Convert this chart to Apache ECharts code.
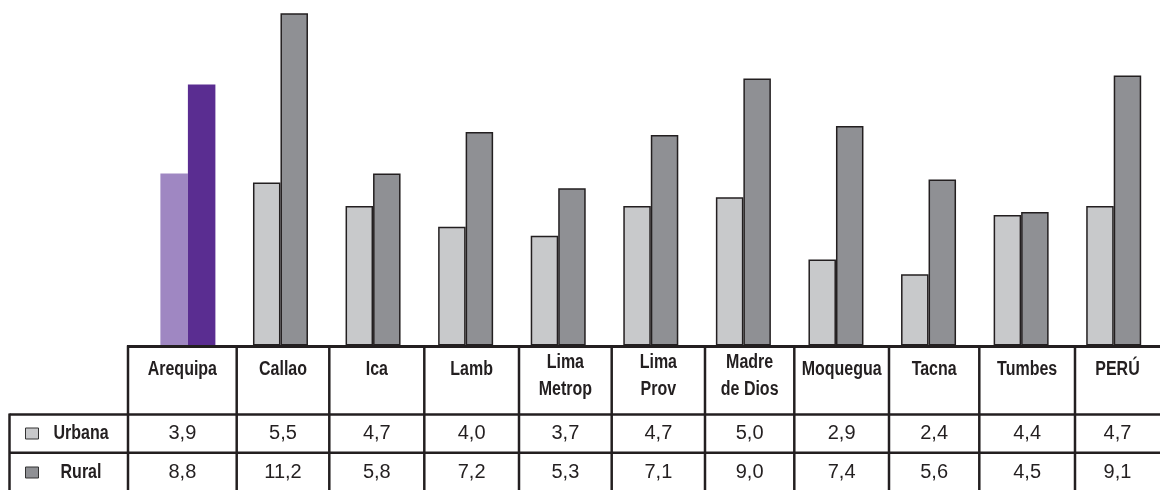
<!DOCTYPE html>
<html>
<head>
<meta charset="utf-8">
<script src="https://cdn.jsdelivr.net/npm/echarts@6/dist/echarts.min.js"></script>
<style>
  html, body { margin: 0; padding: 0; background: #ffffff; }
  #chart { width: 1160px; height: 490px; }
</style>
</head>
<body>
<div id="chart"></div>
<script>
// ---- data ----
const categorias = ['Arequipa', 'Callao', 'Ica', 'Lamb', 'Lima\nMetrop', 'Lima\nProv', 'Madre\nde Dios', 'Moquegua', 'Tacna', 'Tumbes', 'PERÚ'];
const seriesNombres = ['Urbana', 'Rural'];
// values printed in the table
const urbana = [3.9, 5.5, 4.7, 4.0, 3.7, 4.7, 5.0, 2.9, 2.4, 4.4, 4.7];
const rural  = [8.8, 11.2, 5.8, 7.2, 5.3, 7.1, 9.0, 7.4, 5.6, 4.5, 9.1];
// bar heights as drawn in the picture (Arequipa urbana bar is drawn taller than its table value)
const urbanaBarra = [5.8, 5.5, 4.7, 4.0, 3.7, 4.7, 5.0, 2.9, 2.4, 4.4, 4.7];
const ruralBarra  = [8.8, 11.2, 5.8, 7.2, 5.3, 7.1, 9.0, 7.4, 5.6, 4.5, 9.1];

// ---- styles / layout ----
const C_URB = '#c8c9cb', C_RUR = '#8f9094';
const C_URB_HI = '#9f87c2', C_RUR_HI = '#5a2d91';
const LINE = '#231f20';
const colEdges = [128, 236.7, 329.3, 424.3, 519, 611.7, 705, 794.3, 889, 979.3, 1075, 1160];
const yTop = 346.5, yRow1 = 414.5, yRow2 = 452.7, yBot = 492, xLeft = 9.5, xRight = 1162;
const BOLD_FONT = 'bold 19.5px "Liberation Sans", Arial, sans-serif';
const NARROW = 0.82;

function fmt(v) { return v.toFixed(1).replace('.', ','); }

const chart = echarts.init(document.getElementById('chart'), null, { renderer: 'canvas' });

const graphics = [];
// table lines
graphics.push({ type: 'line', shape: { x1: colEdges[0] - 1, y1: yTop, x2: xRight, y2: yTop }, style: { stroke: LINE, lineWidth: 3 }, z: 100 });
graphics.push({ type: 'line', shape: { x1: xLeft, y1: yRow1, x2: xRight, y2: yRow1 }, style: { stroke: LINE, lineWidth: 2.5 }, z: 100 });
graphics.push({ type: 'line', shape: { x1: xLeft, y1: yRow2, x2: xRight, y2: yRow2 }, style: { stroke: LINE, lineWidth: 2.5 }, z: 100 });
graphics.push({ type: 'line', shape: { x1: xLeft, y1: yRow1 - 1, x2: xLeft, y2: yBot }, style: { stroke: LINE, lineWidth: 2.5 }, z: 100 });
for (let i = 0; i < colEdges.length - 1; i++) {
  graphics.push({ type: 'line', shape: { x1: colEdges[i], y1: yTop - 1, x2: colEdges[i], y2: yBot }, style: { stroke: LINE, lineWidth: 2.5 }, z: 100 });
}
// header texts and values
categorias.forEach(function (cat, i) {
  const cx = (colEdges[i] + colEdges[i + 1]) / 2;
  const twoLines = cat.indexOf('\n') >= 0;
  graphics.push({
    type: 'text', x: cx, y: twoLines ? 376 : 369.5, scaleX: NARROW, z: 101,
    style: { text: cat, align: 'center', verticalAlign: 'middle', lineHeight: 27,
      font: BOLD_FONT, fill: LINE }
  });
  graphics.push({
    type: 'text', x: cx, y: 433.5, z: 101,
    style: { text: fmt(urbana[i]), align: 'center', verticalAlign: 'middle',
      font: '20px "Liberation Sans", Arial, sans-serif', fill: LINE }
  });
  graphics.push({
    type: 'text', x: cx, y: 472.5, z: 101,
    style: { text: fmt(rural[i]), align: 'center', verticalAlign: 'middle',
      font: '20px "Liberation Sans", Arial, sans-serif', fill: LINE }
  });
});
// row labels with legend keys
[[seriesNombres[0], C_URB, 433.5], [seriesNombres[1], C_RUR, 472.5]].forEach(function (r) {
  graphics.push({ type: 'rect', shape: { x: 25.5, y: r[2] - 5.5, width: 13, height: 11 }, style: { fill: r[1], stroke: '#333', lineWidth: 1 }, z: 101 });
  graphics.push({
    type: 'text', x: 81, y: r[2], scaleX: NARROW, z: 101,
    style: { text: r[0], align: 'center', verticalAlign: 'middle',
      font: BOLD_FONT, fill: LINE }
  });
});

const option = {
  backgroundColor: '#ffffff',
  animation: false,
  legend: { show: false, data: seriesNombres },
  grid: { left: 141.6, top: 0, width: 1019.7, height: 345.5, containLabel: false },
  xAxis: {
    type: 'category', data: categorias, boundaryGap: true,
    axisLine: { show: false }, axisTick: { show: false }, axisLabel: { show: false }, splitLine: { show: false }
  },
  yAxis: {
    type: 'value', min: 0, max: 11.65,
    axisLine: { show: false }, axisTick: { show: false }, axisLabel: { show: false }, splitLine: { show: false }
  },
  series: [
    {
      name: seriesNombres[0], type: 'bar', barWidth: 27.5, barGap: '0%',
      itemStyle: { color: C_URB, borderColor: LINE, borderWidth: 1.5 },
      data: urbanaBarra.map(function (v, i) {
        return i === 0 ? { value: v, itemStyle: { color: C_URB_HI, borderWidth: 0 } } : v;
      })
    },
    {
      name: seriesNombres[1], type: 'bar', barWidth: 27.5, barGap: '0%',
      itemStyle: { color: C_RUR, borderColor: LINE, borderWidth: 1.5 },
      data: ruralBarra.map(function (v, i) {
        return i === 0 ? { value: v, itemStyle: { color: C_RUR_HI, borderWidth: 0 } } : v;
      })
    }
  ],
  graphic: graphics
};
chart.setOption(option);
</script>
</body>
</html>
